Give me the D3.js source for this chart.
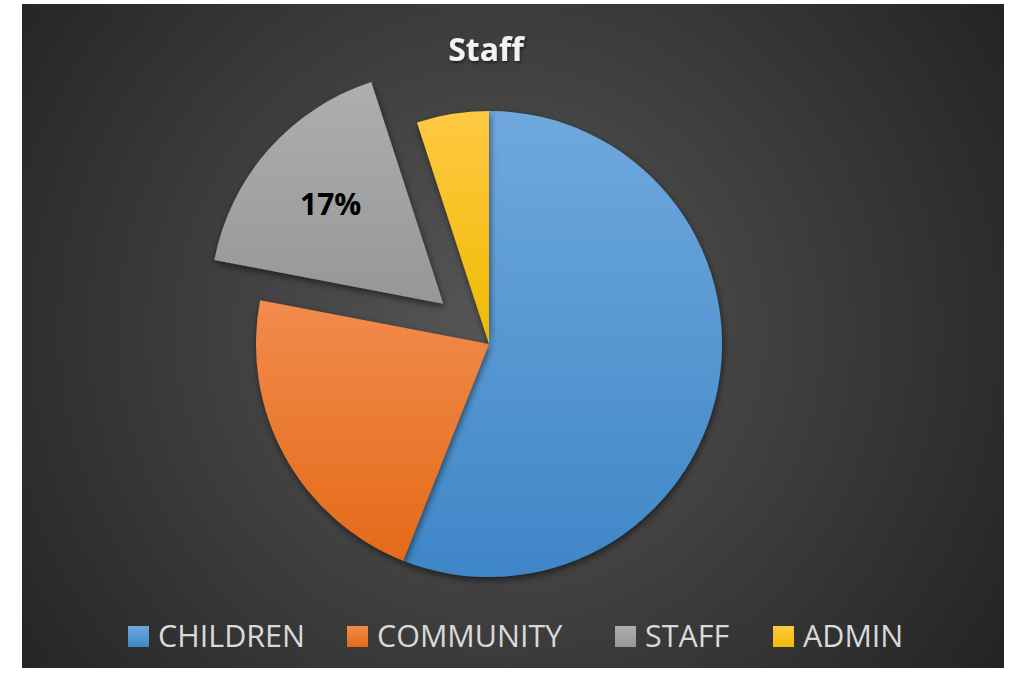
<!DOCTYPE html>
<html><head><meta charset="utf-8">
<script src="https://cdn.jsdelivr.net/npm/d3@7"></script>
<style>html,body{margin:0;padding:0;background:#fff;}svg{display:block;}</style>
</head><body>
<script>
const categories = ["CHILDREN", "COMMUNITY", "STAFF", "ADMIN"];
const values = [56, 22, 17, 5];
const colorsTop = ["#6fa8dd", "#f28b4c", "#aeaeae", "#ffc843"];
const colorsBottom = ["#3f86c7", "#e46a19", "#979797", "#efbb00"];
const exploded = [false, false, true, false];
const showLabel = [false, false, true, false];
const title = "Staff";

const W = 1018, H = 675;
const svg = d3.select("body").append("svg").attr("width", W).attr("height", H);
const defs = svg.append("defs");

const bg = defs.append("radialGradient").attr("id", "bg")
  .attr("gradientUnits", "userSpaceOnUse").attr("cx", 500).attr("cy", 330).attr("r", 620);
bg.append("stop").attr("offset", "0").attr("stop-color", "#575757");
bg.append("stop").attr("offset", "1").attr("stop-color", "#222222");

categories.forEach((c, i) => {
  const g = defs.append("linearGradient").attr("id", "g" + i)
    .attr("x1", 0).attr("y1", 0).attr("x2", 0).attr("y2", 1);
  g.append("stop").attr("offset", "0").attr("stop-color", colorsTop[i]);
  g.append("stop").attr("offset", "1").attr("stop-color", colorsBottom[i]);
});

const f = defs.append("filter").attr("id", "sh").attr("x", "-20%").attr("y", "-20%").attr("width", "140%").attr("height", "140%");
f.append("feDropShadow").attr("dx", 1).attr("dy", 3).attr("stdDeviation", 3.5)
  .attr("flood-color", "#000").attr("flood-opacity", 0.55);

const ft = defs.append("filter").attr("id", "tsh").attr("x", "-20%").attr("y", "-20%").attr("width", "140%").attr("height", "140%");
ft.append("feDropShadow").attr("dx", 1).attr("dy", 2).attr("stdDeviation", 1.5)
  .attr("flood-color", "#000").attr("flood-opacity", 0.5);

svg.append("rect").attr("x", 22).attr("y", 4).attr("width", 982).attr("height", 664).attr("fill", "url(#bg)");

svg.append("text").attr("x", 486).attr("y", 61).attr("text-anchor", "middle")
  .attr("font-family", "Open Sans, sans-serif").attr("font-weight", 700).attr("font-size", 32)
  .attr("fill", "#f2f2f2").attr("filter", "url(#tsh)").text(title);

const cx = 489, cy = 344, R = 233, explodeDist = 61, labelR = 150;
const pie = d3.pie().sort(null).value(d => d)(values);
const arc = d3.arc().innerRadius(0).outerRadius(R);
const gPie = svg.append("g").attr("transform", `translate(${cx},${cy})`);

pie.forEach((p, i) => {
  const mid = (p.startAngle + p.endAngle) / 2;
  const off = exploded[i] ? explodeDist : 0;
  const dx = off * Math.sin(mid), dy = -off * Math.cos(mid);
  const g = gPie.append("g").attr("transform", `translate(${dx},${dy})`);
  g.append("path").attr("d", arc(p)).attr("fill", `url(#g${i})`).attr("filter", "url(#sh)");
  if (showLabel[i]) {
    const total = d3.sum(values);
    g.append("text").attr("x", labelR * Math.sin(mid)).attr("y", -labelR * Math.cos(mid))
      .attr("text-anchor", "middle").attr("dy", "0.36em")
      .attr("font-family", "Open Sans, sans-serif").attr("font-weight", 700).attr("font-size", 30)
      .attr("fill", "#000").text(Math.round(values[i] / total * 100) + "%");
  }
});

const legendX = [128, 347, 615, 773];
const leg = svg.append("g");
categories.forEach((c, i) => {
  leg.append("rect").attr("x", legendX[i]).attr("y", 626).attr("width", 21).attr("height", 21)
    .attr("fill", `url(#g${i})`);
  leg.append("text").attr("x", legendX[i] + 30).attr("y", 647)
    .attr("font-family", "Open Sans, sans-serif").attr("font-size", 30.5)
    .attr("fill", "#d9d9d9").text(c);
});
</script>
</body></html>
